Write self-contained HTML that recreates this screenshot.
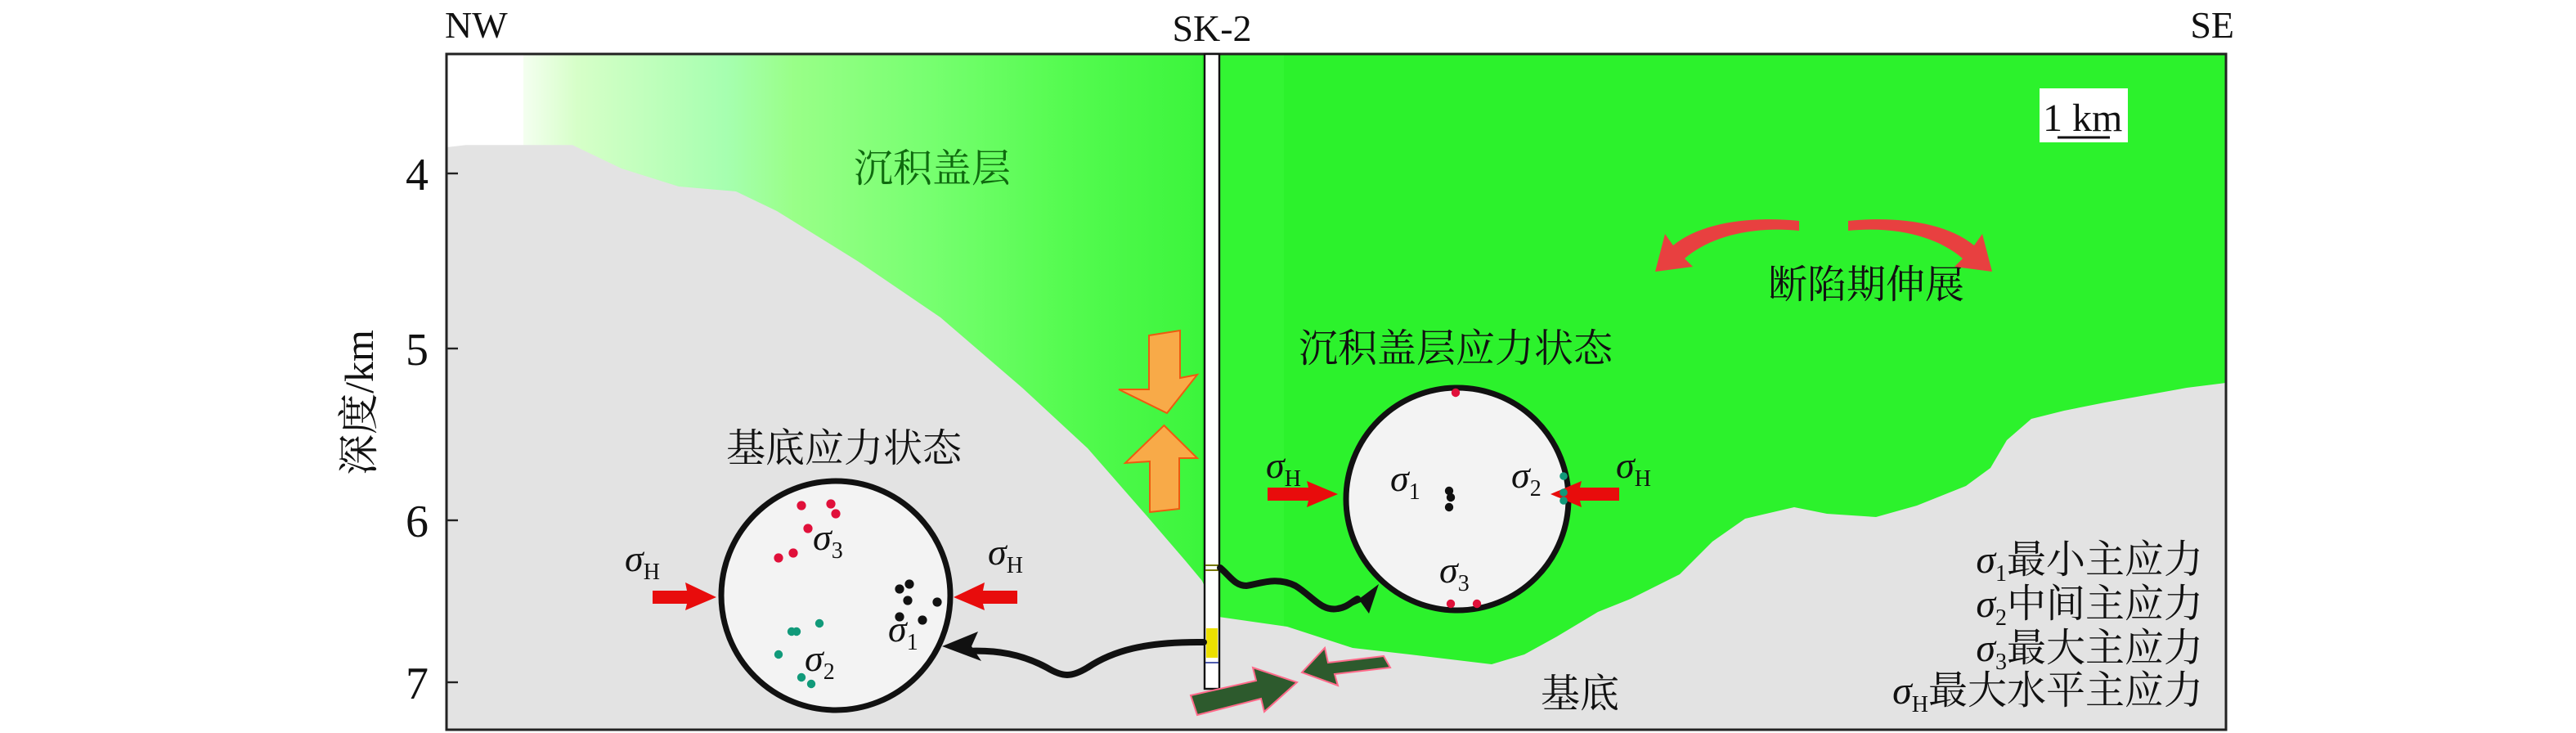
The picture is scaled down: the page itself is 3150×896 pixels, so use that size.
<!DOCTYPE html>
<html><head><meta charset="utf-8"><style>
html,body{margin:0;padding:0;background:#fff;width:3150px;height:896px;overflow:hidden}
svg{display:block}
text,tspan{font-family:"Liberation Serif","Noto Serif CJK SC","Noto Sans CJK SC",serif;fill:#111}
.it{font-style:italic}
</style></head><body>
<svg width="3150" height="896" viewBox="0 0 1575 448" xmlns="http://www.w3.org/2000/svg" font-family="Liberation Serif, Noto Serif CJK SC, serif">
<defs>
<linearGradient id="g" x1="320" y1="0" x2="733" y2="0" gradientUnits="userSpaceOnUse">
<stop offset="0" stop-color="#f4fff0"/>
<stop offset="0.08" stop-color="#d6ffc8"/>
<stop offset="0.22" stop-color="#b8ffb8"/>
<stop offset="0.3" stop-color="#a6ffb0"/>
<stop offset="0.4" stop-color="#99ff88"/>
<stop offset="0.6" stop-color="#77ff70"/>
<stop offset="0.8" stop-color="#55fb50"/>
<stop offset="1" stop-color="#3cf53c"/>
</linearGradient>
</defs>
<rect x="0" y="0" width="1575" height="448" fill="#fff"/>
<rect x="273" y="33" width="1088" height="413" fill="#fff"/>
<rect x="320" y="33" width="415" height="413" fill="url(#g)"/>
<rect x="735" y="33" width="626" height="413" fill="#2cf22c"/>
<rect x="745" y="33" width="40" height="413" fill="#33f533"/>
<path d="M273,90 L285,88.6 L350,88.6 L380,103 L415,114 L450,117 L475,129 L525,160 L575,194 L625,237 L665,274 L700,314 L725,343 L735,355 L745,377 L787,383 L827,396 L862,400 L912,406 L932,400 L952,389 L977,374 L997,366 L1027,351 L1047,331 L1067,317 L1097,310 L1117,314 L1147,316 L1172,309 L1202,297 L1217,286 L1227,269 L1242,256 L1262,251 L1287,246 L1337,237 L1361,234 L1361,446 L273,446 Z" fill="#e3e3e3"/>
<rect x="273" y="33" width="1088" height="413" fill="none" stroke="#222" stroke-width="1.5"/>
<g stroke="#222" stroke-width="1.2">
<line x1="273" y1="106" x2="280" y2="106"/><line x1="273" y1="213" x2="280" y2="213"/>
<line x1="273" y1="318" x2="280" y2="318"/><line x1="273" y1="417" x2="280" y2="417"/>
</g>
<g font-size="28" text-anchor="middle">
<text x="255" y="116">4</text><text x="255" y="223">5</text><text x="255" y="328">6</text><text x="255" y="427">7</text>
</g>
<text font-size="25" text-anchor="middle" transform="translate(228,246) rotate(-90)">深度/km</text>
<text x="272" y="23" font-size="23">NW</text>
<text x="741" y="25" font-size="23" text-anchor="middle">SK-2</text>
<text x="1366" y="23" font-size="23" text-anchor="end">SE</text>
<rect x="1247" y="54" width="54" height="33" fill="#fff"/>
<text x="1249" y="80" font-size="24">1 km</text>
<line x1="1258" y1="84" x2="1290" y2="84" stroke="#111" stroke-width="1.5"/>
<text x="570" y="111" font-size="24" text-anchor="middle" style="fill:#0f6a0f">沉积盖层</text>
<text x="890" y="221" font-size="24" text-anchor="middle">沉积盖层应力状态</text>
<text x="516" y="282" font-size="24" text-anchor="middle">基底应力状态</text>
<text x="1141" y="182" font-size="24" text-anchor="middle">断陷期伸展</text>
<text x="966" y="432" font-size="24" text-anchor="middle">基底</text>
<g font-size="24" text-anchor="end">
<text x="1347" y="350"><tspan class="it">σ</tspan><tspan font-size="14" dy="5">1</tspan><tspan dy="-5">最小主应力</tspan></text>
<text x="1347" y="377"><tspan class="it">σ</tspan><tspan font-size="14" dy="5">2</tspan><tspan dy="-5">中间主应力</tspan></text>
<text x="1347" y="404"><tspan class="it">σ</tspan><tspan font-size="14" dy="5">3</tspan><tspan dy="-5">最大主应力</tspan></text>
<text x="1347" y="430"><tspan class="it">σ</tspan><tspan font-size="14" dy="5">H</tspan><tspan dy="-5">最大水平主应力</tspan></text>
</g>
<g fill="#e84040">
<path d="M1100,141 C1070,138 1045,145 1030,158 L1035,163 L1012,166 L1018,143 L1023,150 C1040,136 1070,132 1100,135 Z"/>
<path d="M1130,141 C1160,138 1185,145 1200,158 L1195,163 L1218,166 L1212,143 L1207,150 C1190,136 1160,132 1130,135 Z"/>
</g>
<g fill="#f8aa48" stroke="#ee5a10" stroke-width="1">
<path d="M702.5,205 L721.5,202 L721.5,231 L732,229 L713.5,252.5 L684,238 L702.5,238 Z"/>
<path d="M711.7,260 L732,280 L721,280 L721,311 L703,313 L703,282 L688,283 Z"/>
</g>
<rect x="736.5" y="33" width="9" height="388" fill="#fff" stroke="#111" stroke-width="1.2"/>
<rect x="737.5" y="384" width="7" height="18" fill="#ece000"/>
<line x1="737" y1="345.5" x2="745" y2="345.5" stroke="#777700" stroke-width="1"/>
<line x1="737" y1="348.5" x2="745" y2="348.5" stroke="#777700" stroke-width="1"/>
<line x1="737" y1="405" x2="745" y2="405" stroke="#223399" stroke-width="0.8"/>
<g fill="#2d5a2d" stroke="#ff6a8a" stroke-width="1">
<path d="M728,425 L768,416 L766,408 L793,417 L773,435 L771,427 L732,437 Z"/>
<path d="M846,401 L812,405 L810,396 L796,411 L818,419 L816,412 L850,408 Z"/>
</g>
<g fill="none" stroke="#111" stroke-width="4" stroke-linecap="round">
<path d="M736,392.5 C700,392 680,398 665,408 C655,414 650,414 640,408 C625,400 610,397 590,398"/>
<path d="M746,347 C752,352 755,358 762,358 C770,357 780,352 792,358 C802,364 808,374 818,372 C824,371 826,368 830,366"/>
</g>
<path d="M576,395 L598,386 L594,395 L600,404 Z" fill="#111"/>
<path d="M843,357 L837,375 L832,368 L823,372 Z" fill="#111"/>
<circle cx="511" cy="364" r="70" fill="#f3f3f3" stroke="#111" stroke-width="3.5"/>
<circle cx="891" cy="305" r="68" fill="#f3f3f3" stroke="#111" stroke-width="3.5"/>
<g fill="#e80c0c">
<path d="M399,361 L420,361 L419,356 L438,365 L419,373 L420,369 L399,369 Z"/>
<path d="M622,361 L601,361 L602,356 L583,365 L602,373 L601,369 L622,369 Z"/>
<path d="M775,298 L800,298 L799,294 L818,302 L799,310 L800,306 L775,306 Z"/>
<path d="M990,298 L966,298 L967,294 L948,302 L967,310 L966,306 L990,306 Z"/>
</g>
<g font-size="23">
<text x="382" y="349"><tspan class="it">σ</tspan><tspan font-size="14" dy="5">H</tspan></text>
<text x="604" y="345"><tspan class="it">σ</tspan><tspan font-size="14" dy="5">H</tspan></text>
<text x="774" y="292"><tspan class="it">σ</tspan><tspan font-size="14" dy="5">H</tspan></text>
<text x="988" y="292"><tspan class="it">σ</tspan><tspan font-size="14" dy="5">H</tspan></text>
<text x="497" y="336"><tspan class="it">σ</tspan><tspan font-size="14" dy="5">3</tspan></text>
<text x="543" y="392"><tspan class="it">σ</tspan><tspan font-size="14" dy="5">1</tspan></text>
<text x="492" y="410"><tspan class="it">σ</tspan><tspan font-size="14" dy="5">2</tspan></text>
<text x="850" y="300"><tspan class="it">σ</tspan><tspan font-size="14" dy="5">1</tspan></text>
<text x="924" y="298"><tspan class="it">σ</tspan><tspan font-size="14" dy="5">2</tspan></text>
<text x="880" y="356"><tspan class="it">σ</tspan><tspan font-size="14" dy="5">3</tspan></text>
</g>
<g fill="#e0103a">
<circle cx="490" cy="309" r="2.8"/><circle cx="508" cy="308" r="2.8"/><circle cx="511" cy="314" r="2.8"/>
<circle cx="494" cy="323" r="2.8"/><circle cx="485" cy="338" r="2.8"/><circle cx="476" cy="341" r="2.8"/>
<circle cx="890" cy="240" r="2.6"/><circle cx="887" cy="369" r="2.6"/><circle cx="903" cy="369" r="2.6"/>
</g>
<g fill="#111">
<circle cx="550" cy="360" r="2.8"/><circle cx="556" cy="357" r="2.8"/><circle cx="555" cy="367" r="2.8"/>
<circle cx="573" cy="368" r="2.8"/><circle cx="550" cy="377" r="2.8"/><circle cx="564" cy="379" r="2.8"/>
<circle cx="886" cy="300" r="2.6"/><circle cx="887" cy="304" r="2.6"/><circle cx="886" cy="310" r="2.6"/>
</g>
<g fill="#119a7a">
<circle cx="501" cy="381" r="2.6"/><circle cx="487" cy="386" r="2.6"/><circle cx="484" cy="386" r="2.6"/>
<circle cx="476" cy="400" r="2.6"/><circle cx="490" cy="414" r="2.6"/><circle cx="496" cy="418" r="2.6"/>
<circle cx="956" cy="291" r="2.4"/><circle cx="956" cy="301" r="2.4"/><circle cx="956" cy="306" r="2.4"/>
</g>
</svg>
</body></html>
